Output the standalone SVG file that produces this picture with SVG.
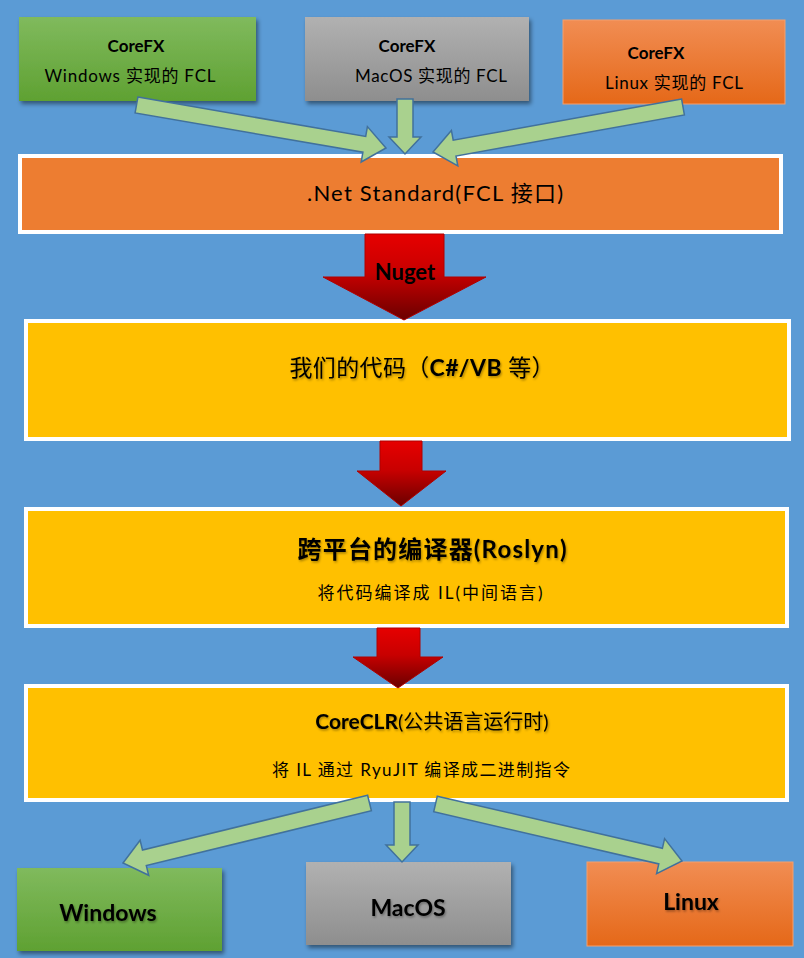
<svg xmlns="http://www.w3.org/2000/svg" width="804" height="958" viewBox="0 0 804 958">
<defs>
  <linearGradient id="gGreen" x1="0" y1="0" x2="0" y2="1"><stop offset="0" stop-color="#80BA5D"/><stop offset="1" stop-color="#5FA132"/></linearGradient>
  <linearGradient id="gGray" x1="0" y1="0" x2="0" y2="1"><stop offset="0" stop-color="#B1B1B1"/><stop offset="1" stop-color="#8E8E8E"/></linearGradient>
  <linearGradient id="gOrange" x1="0" y1="0" x2="0" y2="1"><stop offset="0" stop-color="#F18D53"/><stop offset="1" stop-color="#E56818"/></linearGradient>
  <linearGradient id="gRed" x1="0" y1="0" x2="0" y2="1"><stop offset="0" stop-color="#E60000"/><stop offset="0.45" stop-color="#C80000"/><stop offset="1" stop-color="#6A0000"/></linearGradient>
  <filter id="shadow" x="-10%" y="-10%" width="125%" height="130%"><feDropShadow dx="2" dy="3" stdDeviation="2" flood-color="#000" flood-opacity="0.45"/></filter>
  <filter id="tshadow" x="-5%" y="-20%" width="115%" height="150%"><feDropShadow dx="1" dy="1.5" stdDeviation="1" flood-color="#000" flood-opacity="0.35"/></filter>
</defs>
<style>
  .t { font-family: Lato, "Liberation Sans", "Noto Sans CJK SC", sans-serif; fill: #000; text-anchor: middle; }
  .b { font-weight: bold; }
  .main { stroke: #FFFFFF; stroke-width: 4; }
  .yellow { fill: #FFC000; }
  .green-arrow { fill: #A9D18E; stroke: #41719C; stroke-width: 1.5; stroke-linejoin: miter; }
  .red-arrow { fill: url(#gRed); stroke: #B00000; stroke-width: 1; }
</style>
<rect x="0" y="0" width="804" height="958" fill="#5B9BD5"/>

<g id="corefx-windows">
  <rect x="19" y="17" width="237" height="84" fill="url(#gGreen)" filter="url(#shadow)"/>
  <text class="t b" x="136" y="52" font-size="17">CoreFX</text>
  <text class="t" x="130" y="82" font-size="17" textLength="171" lengthAdjust="spacing">Windows 实现的 FCL</text>
</g>
<g id="corefx-macos">
  <rect x="305" y="17" width="224" height="84" fill="url(#gGray)" filter="url(#shadow)"/>
  <text class="t b" x="407" y="52" font-size="17">CoreFX</text>
  <text class="t" x="431" y="82" font-size="17" textLength="152" lengthAdjust="spacing">MacOS 实现的 FCL</text>
</g>
<g id="corefx-linux">
  <rect x="563" y="20" width="222" height="84" fill="url(#gOrange)" stroke="#F4A06E" stroke-width="1"/>
  <text class="t b" x="656" y="59" font-size="17">CoreFX</text>
  <text class="t" x="674" y="89" font-size="17" textLength="138" lengthAdjust="spacing">Linux 实现的 FCL</text>
</g>

<g id="net-standard">
  <rect class="main" x="20" y="156" width="761" height="76" fill="#ED7D31"/>
  <text class="t" x="435" y="201" font-size="22" textLength="256" lengthAdjust="spacing">.Net Standard(FCL 接口)</text>
</g>

<g id="our-code">
  <rect class="main yellow" x="26" y="321" width="763" height="118"/>
  <text class="t" x="422" y="376" font-size="23" filter="url(#tshadow)" textLength="265" lengthAdjust="spacing">我们的代码（<tspan font-weight="bold">C#/VB</tspan> 等）</text>
</g>

<g id="roslyn">
  <rect class="main yellow" x="26" y="509" width="761" height="117"/>
  <text class="t b" x="432" y="558" font-size="24" filter="url(#tshadow)" textLength="269" lengthAdjust="spacing">跨平台的编译器(Roslyn)</text>
  <text class="t" x="430" y="599" font-size="17" textLength="225" lengthAdjust="spacing">将代码编译成 IL(中间语言)</text>
</g>

<g id="coreclr">
  <rect class="main yellow" x="26" y="686" width="761" height="114"/>
  <text class="t" x="432" y="729" font-size="20" filter="url(#tshadow)"><tspan font-weight="bold" font-size="21">CoreCLR</tspan>(公共语言运行时)</text>
  <text class="t" x="421" y="776" font-size="17" textLength="298" lengthAdjust="spacing">将 IL 通过 RyuJIT 编译成二进制指令</text>
</g>

<g id="os-windows">
  <rect x="17" y="868" width="205" height="83" fill="url(#gGreen)" filter="url(#shadow)"/>
  <text class="t b" x="108" y="921" font-size="23" filter="url(#tshadow)">Windows</text>
</g>
<g id="os-macos">
  <rect x="306" y="862" width="205" height="83" fill="url(#gGray)" filter="url(#shadow)"/>
  <text class="t b" x="408" y="916" font-size="23" filter="url(#tshadow)">MacOS</text>
</g>
<g id="os-linux">
  <rect x="587" y="862" width="206" height="84" fill="url(#gOrange)" stroke="#F4A06E" stroke-width="1"/>
  <text class="t b" x="691" y="910" font-size="23" filter="url(#tshadow)">Linux</text>
</g>

<g id="connectors">
  <polygon class="green-arrow" points="137.9,97.1 365.7,136.4 367.4,126.6 386,148 361.2,162 362.9,152.2 135.1,112.9"/>
  <polygon class="green-arrow" points="397,99 413,99 413,137 421,137 405,154 389,137 397,137"/>
  <polygon class="green-arrow" points="681.6,99.1 453.2,140.2 451.4,130.4 433,152 457.8,165.8 456,156 684.4,114.9"/>

  <polygon class="red-arrow" points="365,234 444,234 444,277 486,277 404,320 323,277 365,277"/>
  <text class="t b" x="405" y="280" font-size="22">Nuget</text>
  <polygon class="red-arrow" points="380,441 422,441 422,471 446,471 401,506 357,471 380,471"/>
  <polygon class="red-arrow" points="377,628 420,628 420,657 443,657 398,688 353,657 377,657"/>

  <polygon class="green-arrow" points="367.6,795.2 142.5,850 140.1,840.3 123,863 148.7,875.3 146.3,865.6 371.4,810.8"/>
  <polygon class="green-arrow" points="394,802 410,802 410,845 418,845 402,862 386,845 394,845"/>
  <polygon class="green-arrow" points="437.3,796.2 662.4,848.3 664.6,838.6 682,861 656.6,873.6 658.8,863.9 433.7,811.8"/>
</g>
</svg>
